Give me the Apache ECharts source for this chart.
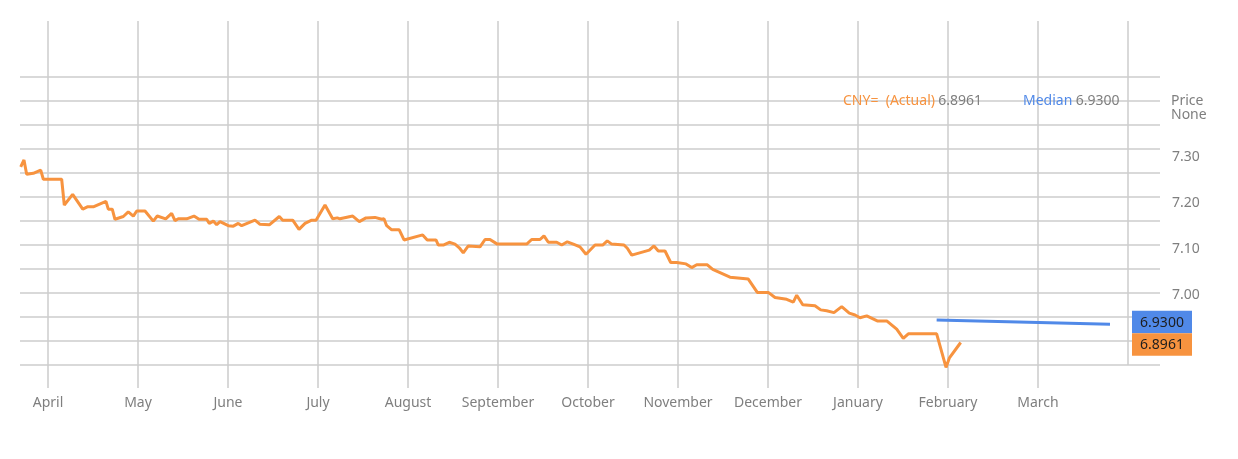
<!DOCTYPE html>
<html>
<head>
<meta charset="utf-8">
<script src="https://cdn.jsdelivr.net/npm/echarts@6/dist/echarts.min.js"></script>
<style>
html,body{margin:0;padding:0;background:#fff;}
#chart{width:1238px;height:459px;}
</style>
</head>
<body>
<div id="chart"></div>
<script>
// ---- data ----
const monthLabels = ['April','May','June','July','August','September','October','November','December','January','February','March'];
const monthTicks = [0,1,2,3,4,5,6,7,8,9,10,11];
// x positions in month units (0 = start of April)
const actualT = [-0.303,-0.267,-0.237,-0.163,-0.081,-0.052,0.152,0.181,0.274,0.386,0.437,0.503,0.644,0.670,0.714,0.744,0.837,0.892,0.948,0.986,
 1.078,1.170,1.214,1.308,1.374,1.411,1.448,1.541,1.622,1.678,1.763,1.792,1.837,1.874,1.911,2.003,2.059,2.114,2.152,2.300,
 2.356,2.459,2.570,2.608,2.719,2.789,2.856,2.930,2.978,3.078,3.163,3.214,3.244,3.386,3.459,3.533,3.633,3.708,3.733,3.763,
 3.819,3.903,3.956,4.163,4.214,4.311,4.337,4.392,4.459,4.522,4.570,4.614,4.670,4.800,4.856,4.911,4.992,5.319,5.374,5.467,
 5.511,5.559,5.652,5.708,5.770,5.837,5.911,5.978,6.078,6.163,6.214,6.263,6.400,6.437,6.486,6.681,6.733,6.781,6.856,6.919,
 6.986,7.089,7.152,7.208,7.326,7.386,7.578,7.781,7.881,8.003,8.078,8.208,8.281,8.319,8.386,8.522,8.586,8.652,8.733,8.819,
 8.903,8.967,9.022,9.097,9.214,9.319,9.430,9.503,9.559,9.874,9.978,10.014,10.141];
const actualV = [7.278,7.293,7.262,7.264,7.271,7.251,7.251,7.195,7.218,7.186,7.191,7.191,7.203,7.186,7.186,7.164,7.170,7.180,7.171,7.182,
 7.182,7.160,7.171,7.165,7.177,7.161,7.165,7.165,7.171,7.164,7.164,7.155,7.160,7.152,7.159,7.150,7.149,7.155,7.150,7.162,
 7.153,7.152,7.170,7.162,7.162,7.142,7.155,7.162,7.162,7.195,7.165,7.167,7.165,7.171,7.159,7.167,7.168,7.164,7.165,7.150,
 7.141,7.141,7.119,7.130,7.119,7.119,7.108,7.108,7.114,7.110,7.102,7.091,7.106,7.104,7.120,7.120,7.110,7.110,7.120,7.120,
 7.128,7.114,7.114,7.108,7.115,7.110,7.104,7.088,7.108,7.108,7.117,7.110,7.108,7.101,7.086,7.097,7.106,7.095,7.095,7.070,
 7.070,7.067,7.059,7.065,7.065,7.055,7.038,7.034,7.005,7.005,6.994,6.990,6.984,6.999,6.978,6.976,6.967,6.965,6.961,6.974,
 6.960,6.956,6.950,6.954,6.943,6.943,6.925,6.905,6.915,6.915,6.842,6.862,6.8961];
const medianT = [9.874, 11.80];
const medianV = [6.945, 6.936];
const actualLast = 6.8961;
const medianValue = 6.9300;
const yTickValues = [7.00, 7.10, 7.20, 7.30];
const gridRows = [0,1,2,3,4,5,6,7,8,9,10,11,12];

// ---- chart ----
const ORANGE = '#f7933f';
const BLUE = '#5089e8';
const GRID = '#cccccc';
const TXT = '#7f7f7f';
const FONT = 'Noto Sans';

const chart = echarts.init(document.getElementById('chart'));
const zip = (a, b) => a.map((v, i) => [v, b[i]]);

const option = {
  animation: false,
  backgroundColor: '#ffffff',
  grid: [
    {left: 20, right: 78, top: 21, bottom: 94},            // data
    {left: 48, right: 110, top: 21, bottom: 94},           // vertical grid lines
    {left: 20, right: 78, top: 76.7, bottom: 94.3}         // horizontal grid lines
  ],
  xAxis: [
    {
      type: 'value', gridIndex: 0, min: -0.3111, max: 12.3556,
      axisLine: {show: false},
      axisTick: {show: true, customValues: monthTicks, length: 23, lineStyle: {color: GRID, width: 1.5}},
      axisLabel: {show: true, customValues: monthTicks, margin: 31, color: TXT, fontFamily: FONT, fontSize: 14,
        formatter: v => monthLabels[Math.round(v)] || ''},
      splitLine: {show: false}
    },
    {
      type: 'value', gridIndex: 1, min: 0, max: 12, interval: 1,
      axisLine: {show: false}, axisTick: {show: false}, axisLabel: {show: false},
      splitLine: {show: true, lineStyle: {color: GRID, width: 1.5}}
    },
    {
      type: 'value', gridIndex: 2, min: 0, max: 1, show: false
    }
  ],
  yAxis: [
    {
      type: 'value', gridIndex: 0, position: 'right', min: 6.8472, max: 7.5950,
      axisLine: {show: false}, axisTick: {show: false},
      axisLabel: {show: true, customValues: yTickValues, margin: 12, color: TXT, fontFamily: FONT, fontSize: 14,
        formatter: v => v.toFixed(2)},
      splitLine: {show: false}
    },
    {
      type: 'value', gridIndex: 1, min: 0, max: 1, show: false
    },
    {
      type: 'value', gridIndex: 2, min: gridRows[0], max: gridRows[gridRows.length - 1], interval: 1,
      axisLine: {show: false}, axisTick: {show: false}, axisLabel: {show: false},
      splitLine: {show: true, lineStyle: {color: GRID, width: 1.5}}
    }
  ],
  series: [
    {
      name: 'Median', type: 'line', xAxisIndex: 0, yAxisIndex: 0,
      data: zip(medianT, medianV), showSymbol: false, clip: false,
      lineStyle: {color: BLUE, width: 3}, itemStyle: {color: BLUE}, z: 5
    },
    {
      name: 'CNY=  (Actual)', type: 'line', xAxisIndex: 0, yAxisIndex: 0,
      data: zip(actualT, actualV), showSymbol: false, clip: false,
      lineStyle: {color: ORANGE, width: 3}, itemStyle: {color: ORANGE}, z: 6
    }
  ]
};
chart.setOption(option);

// annotations: legend texts, axis caption and value tags
const lastY = chart.convertToPixel({xAxisIndex: 0, yAxisIndex: 0}, [actualT[actualT.length - 1], actualLast])[1];
const tagH = 22.5;
const orangeTop = lastY - tagH / 2 + 2;
const tagX = 1132, tagW = 60;
chart.setOption({
  graphic: [
    {type: 'text', left: 843, top: 94, z: 100,
      style: {text: '{a|CNY=  (Actual)} {b|' + actualLast.toFixed(4) + '}',
        rich: {a: {fill: ORANGE, fontFamily: FONT, fontSize: 14}, b: {fill: TXT, fontFamily: FONT, fontSize: 14}}}},
    {type: 'text', left: 1023, top: 94, z: 100,
      style: {text: '{a|Median} {b|' + medianValue.toFixed(4) + '}',
        rich: {a: {fill: BLUE, fontFamily: FONT, fontSize: 14}, b: {fill: TXT, fontFamily: FONT, fontSize: 14}}}},
    {type: 'text', left: 1171, top: 94, z: 100,
      style: {text: 'Price\nNone', fill: TXT, fontFamily: FONT, fontSize: 14, lineHeight: 14}},
    {type: 'rect', x: tagX, y: orangeTop - tagH, z: 100,
      shape: {width: tagW, height: tagH}, style: {fill: BLUE}},
    {type: 'text', x: tagX + tagW / 2, y: orangeTop - tagH / 2 + 1, z: 101,
      style: {text: medianValue.toFixed(4), fill: '#1e1e1e', fontFamily: FONT, fontSize: 14,
        align: 'center', verticalAlign: 'middle'}},
    {type: 'rect', x: tagX, y: orangeTop, z: 100,
      shape: {width: tagW, height: tagH}, style: {fill: ORANGE}},
    {type: 'text', x: tagX + tagW / 2, y: orangeTop + tagH / 2 + 1, z: 101,
      style: {text: actualLast.toFixed(4), fill: '#1e1e1e', fontFamily: FONT, fontSize: 14,
        align: 'center', verticalAlign: 'middle'}}
  ]
});
</script>
</body>
</html>
